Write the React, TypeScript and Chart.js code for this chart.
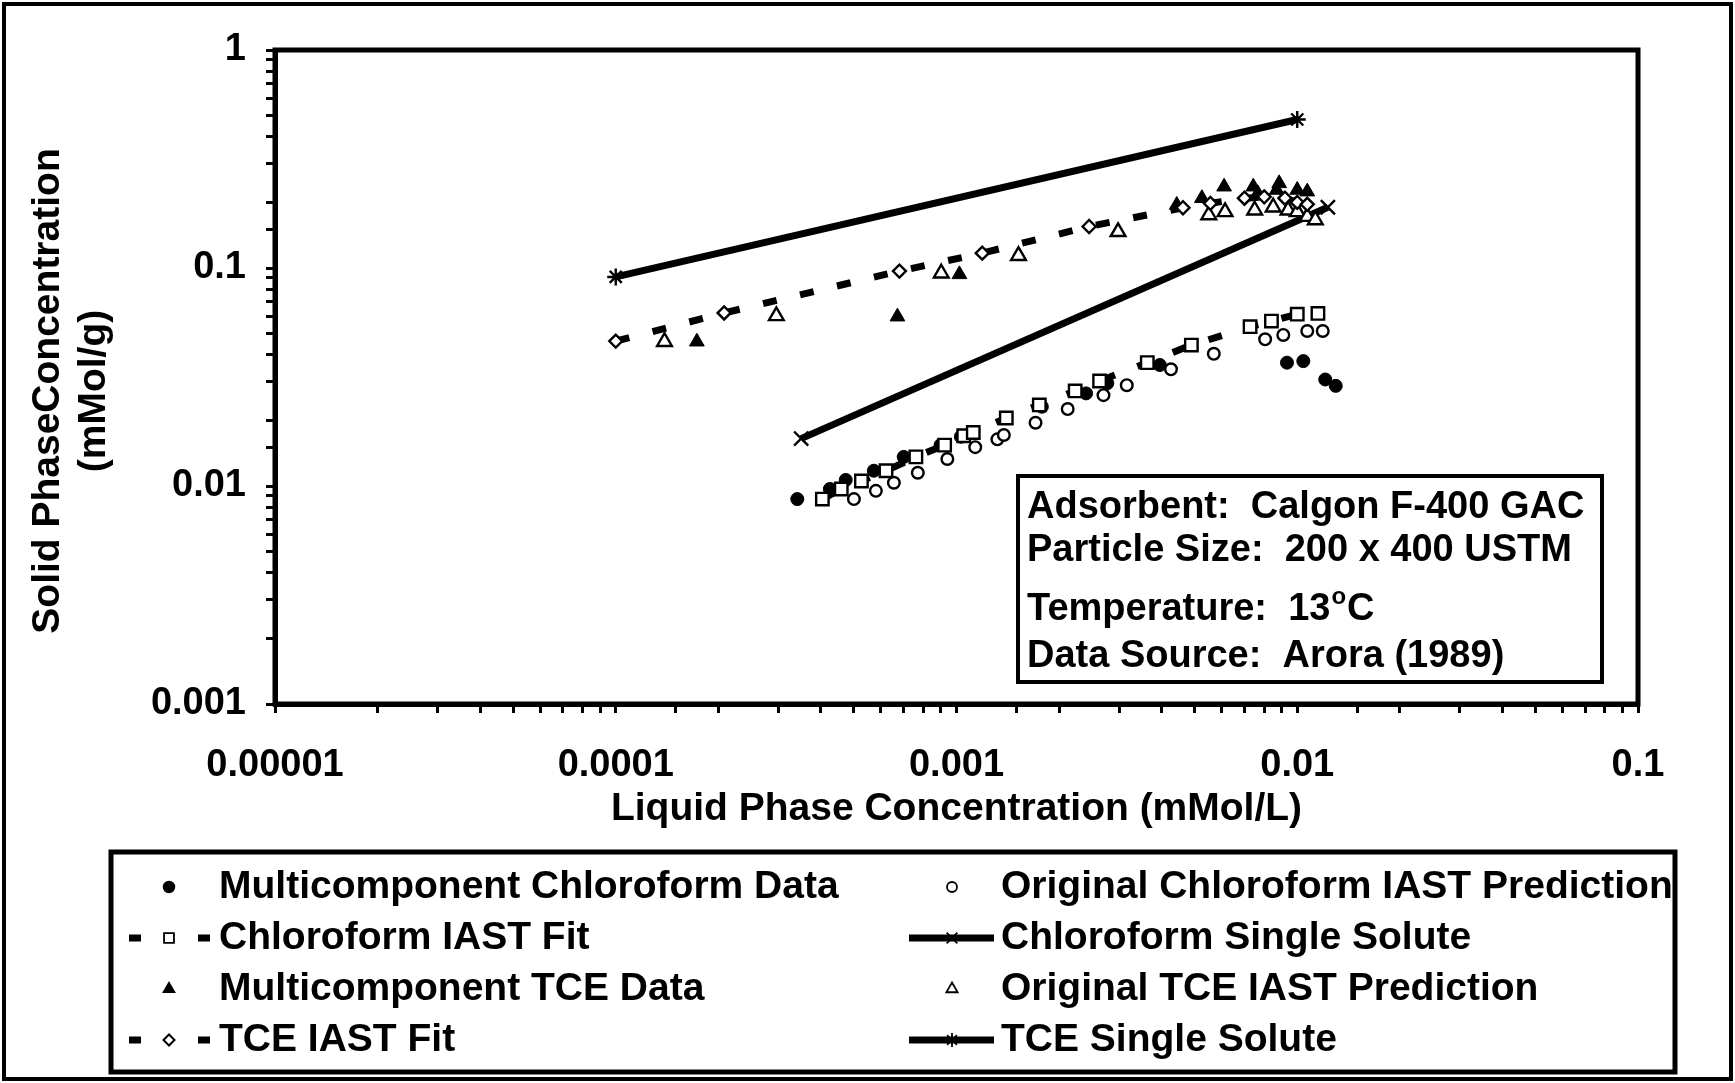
import React, { useEffect, useRef } from 'react';
import { Chart, registerables } from 'chart.js';

Chart.register(...registerables);

// ---------- data ----------
const CHL_DATA_X = [0.000341, 0.000425, 0.000473, 0.000572, 0.0007, 0.000898, 0.00103, 0.00178, 0.0024, 0.00277, 0.00395, 0.00933, 0.01042, 0.01208, 0.01297];
const CHL_DATA_Y = [0.00871, 0.00969, 0.01066, 0.01175, 0.0136, 0.0154, 0.01683, 0.0231, 0.0266, 0.0296, 0.0359, 0.0368, 0.0374, 0.0308, 0.0288];

const CHL_ORIG_X = [0.0005, 0.00058, 0.000655, 0.00077, 0.00094, 0.001135, 0.001318, 0.001377, 0.001706, 0.00212, 0.0027, 0.00316, 0.00426, 0.00569, 0.00805, 0.0091, 0.0107, 0.01188];
const CHL_ORIG_Y = [0.00871, 0.0095, 0.01035, 0.0115, 0.0133, 0.01507, 0.01637, 0.01714, 0.0195, 0.02254, 0.0261, 0.029, 0.0343, 0.0404, 0.0471, 0.0493, 0.0514, 0.0514];

const CHL_FIT_X = [0.000404, 0.000459, 0.000526, 0.000621, 0.00076, 0.000923, 0.00105, 0.00112, 0.0014, 0.00175, 0.00223, 0.00263, 0.00363, 0.00489, 0.00727, 0.0084, 0.01, 0.0115];
const CHL_FIT_Y = [0.00871, 0.00969, 0.01054, 0.01175, 0.0136, 0.0154, 0.017, 0.0176, 0.0205, 0.02355, 0.0273, 0.0303, 0.0368, 0.0443, 0.0538, 0.0571, 0.0614, 0.0619];

const CHL_SINGLE_X = [0.00035, 0.0123];
const CHL_SINGLE_Y = [0.0165, 0.19];

const TCE_DATA_X = [0.000173, 0.000671, 0.00102, 0.00153, 0.00297, 0.00443, 0.00525, 0.0061, 0.00743, 0.00766, 0.00885, 0.0087, 0.01, 0.0107];
const TCE_DATA_Y = [0.0459, 0.0598, 0.0935, 0.1135, 0.1466, 0.1945, 0.209, 0.236, 0.236, 0.22, 0.2445, 0.228, 0.228, 0.224];

const TCE_ORIG_X = [0.000139, 0.000296, 0.000902, 0.00152, 0.00298, 0.0055, 0.00614, 0.0075, 0.0085, 0.0094, 0.01, 0.0107, 0.0113];
const TCE_ORIG_Y = [0.0459, 0.0603, 0.0946, 0.1138, 0.1466, 0.175, 0.181, 0.184, 0.19, 0.184, 0.181, 0.172, 0.166];

const TCE_FIT_X = [0.0001, 0.000208, 0.00068, 0.00119, 0.00245, 0.00462, 0.00556, 0.007, 0.008, 0.0092, 0.01, 0.0107];
const TCE_FIT_Y = [0.0462, 0.0622, 0.0968, 0.117, 0.155, 0.189, 0.198, 0.209, 0.212, 0.209, 0.2, 0.196];

const TCE_SINGLE_X = [0.0001, 0.01];
const TCE_SINGLE_Y = [0.091, 0.48];

const X_TICK_LABELS = ['0.00001', '0.0001', '0.001', '0.01', '0.1']; // 1e-5 .. 1e-1
const Y_TICK_LABELS = ['0.001', '0.01', '0.1', '1']; // 1e-3 .. 1e0

const X_TITLE = 'Liquid Phase Concentration (mMol/L)';
const Y_TITLE_LINES = ['Solid PhaseConcentration', '(mMol/g)'];
const INFO_LINES = ['Adsorbent:  Calgon F-400 GAC', 'Particle Size:  200 x 400 USTM', 'Temperature:  13', 'Data Source:  Arora (1989)'];

const LEGEND_LABELS = [
  'Multicomponent Chloroform Data',
  'Original Chloroform IAST Prediction',
  'Chloroform IAST Fit',
  'Chloroform Single Solute',
  'Multicomponent TCE Data',
  'Original TCE IAST Prediction',
  'TCE IAST Fit',
  'TCE Single Solute',
];

const W = 1735;
const H = 1083;
const FONT = '"Liberation Sans", Arial, Helvetica, sans-serif';
const FS = 38;
const FS_BIG = 39;

const pts = (xs: number[], ys: number[]) => xs.map((x, i) => ({ x, y: ys[i] }));

type Style = 'circle' | 'rect' | 'triangle' | 'rectRot' | 'crossRot' | 'star';

function drawMarker(ctx: CanvasRenderingContext2D, style: Style, x: number, y: number, r: number, fill: string, lw: number) {
  ctx.save();
  ctx.beginPath();
  ctx.lineWidth = lw;
  ctx.strokeStyle = '#000';
  ctx.fillStyle = fill;
  if (style === 'circle') {
    ctx.arc(x, y, r, 0, Math.PI * 2);
    ctx.fill();
    ctx.stroke();
  } else if (style === 'rect') {
    const s = r * Math.SQRT1_2;
    ctx.rect(x - s, y - s, 2 * s, 2 * s);
    ctx.fill();
    ctx.stroke();
  } else if (style === 'triangle') {
    ctx.moveTo(x, y - r);
    ctx.lineTo(x + r * Math.sin((2 * Math.PI) / 3), y - r * Math.cos((2 * Math.PI) / 3));
    ctx.lineTo(x + r * Math.sin((4 * Math.PI) / 3), y - r * Math.cos((4 * Math.PI) / 3));
    ctx.closePath();
    ctx.fill();
    ctx.stroke();
  } else if (style === 'rectRot') {
    ctx.moveTo(x - r, y);
    ctx.lineTo(x, y - r);
    ctx.lineTo(x + r, y);
    ctx.lineTo(x, y + r);
    ctx.closePath();
    ctx.fill();
    ctx.stroke();
  } else if (style === 'crossRot') {
    const d = r * Math.SQRT1_2;
    ctx.moveTo(x - d, y - d);
    ctx.lineTo(x + d, y + d);
    ctx.moveTo(x + d, y - d);
    ctx.lineTo(x - d, y + d);
    ctx.stroke();
  } else if (style === 'star') {
    const d = r * Math.SQRT1_2;
    ctx.moveTo(x - d, y - d);
    ctx.lineTo(x + d, y + d);
    ctx.moveTo(x + d, y - d);
    ctx.lineTo(x - d, y + d);
    ctx.moveTo(x, y - r);
    ctx.lineTo(x, y + r);
    ctx.moveTo(x - r, y);
    ctx.lineTo(x + r, y);
    ctx.stroke();
  }
  ctx.restore();
}

const decoPlugin = {
  id: 'deco',
  beforeDraw(chart: any) {
    const ctx = chart.ctx as CanvasRenderingContext2D;
    ctx.save();
    ctx.fillStyle = '#fff';
    ctx.fillRect(0, 0, W, H);
    ctx.restore();
  },
  afterDraw(chart: any) {
    const ctx = chart.ctx as CanvasRenderingContext2D;
    const a = chart.chartArea;
    ctx.save();
    ctx.strokeStyle = '#000';
    ctx.fillStyle = '#000';

    // plot frame
    ctx.lineWidth = 5;
    ctx.strokeRect(a.left, a.top, a.right - a.left, a.bottom - a.top);

    // outer border
    ctx.lineWidth = 4;
    ctx.strokeRect(4, 4, W - 8, H - 8);

    ctx.font = `bold ${FS_BIG}px ${FONT}`;

    // x title
    ctx.textAlign = 'center';
    ctx.textBaseline = 'middle';
    ctx.fillText(X_TITLE, (a.left + a.right) / 2, 809);

    // y title
    ctx.save();
    ctx.translate(0, 391);
    ctx.rotate(-Math.PI / 2);
    ctx.fillText(Y_TITLE_LINES[0], 0, 48);
    ctx.fillText(Y_TITLE_LINES[1], 0, 94);
    ctx.restore();

    // info box
    ctx.lineWidth = 4;
    ctx.fillStyle = '#fff';
    ctx.fillRect(1018, 476, 584, 206);
    ctx.strokeRect(1018, 476, 584, 206);
    ctx.fillStyle = '#000';
    ctx.textAlign = 'left';
    ctx.textBaseline = 'alphabetic';
    ctx.font = `bold ${FS}px ${FONT}`;
    const baselines = [518, 561, 620, 667];
    INFO_LINES.forEach((t, i) => {
      ctx.fillText(t, 1027, baselines[i]);
      if (i === 2) {
        const w = ctx.measureText(t).width;
        ctx.font = `bold 24px ${FONT}`;
        ctx.fillText('o', 1027 + w + 1, baselines[i] - 16);
        const w2 = ctx.measureText('o').width;
        ctx.font = `bold ${FS}px ${FONT}`;
        ctx.fillText('C', 1027 + w + w2 + 2, baselines[i]);
      }
    });

    // legend box
    ctx.lineWidth = 5;
    ctx.strokeRect(111, 852, 1564, 220);
    const rows = [887, 938, 989, 1040];
    const col1Marker = 169;
    const col1Text = 219;
    const col2Marker = 952;
    const col2Text = 1001;
    ctx.textBaseline = 'middle';
    ctx.textAlign = 'left';
    const dashPair = (cx: number, y: number) => {
      ctx.save();
      ctx.lineWidth = 7;
      ctx.lineCap = 'butt';
      ctx.beginPath();
      ctx.moveTo(cx - 40, y);
      ctx.lineTo(cx - 28, y);
      ctx.moveTo(cx + 29, y);
      ctx.lineTo(cx + 41, y);
      ctx.stroke();
      ctx.restore();
    };
    const solidLine = (cx: number, y: number) => {
      ctx.save();
      ctx.lineWidth = 7;
      ctx.beginPath();
      ctx.moveTo(cx - 43, y);
      ctx.lineTo(cx + 42, y);
      ctx.stroke();
      ctx.restore();
    };
    // col 1
    drawMarker(ctx, 'circle', col1Marker, rows[0], 5.5, '#000', 1.5);
    dashPair(col1Marker, rows[1]);
    drawMarker(ctx, 'rect', col1Marker, rows[1], 7, '#fff', 1.8);
    drawMarker(ctx, 'triangle', col1Marker, rows[2], 6.5, '#000', 1.5);
    dashPair(col1Marker, rows[3]);
    drawMarker(ctx, 'rectRot', col1Marker, rows[3], 5.5, '#fff', 2);
    // col 2
    drawMarker(ctx, 'circle', col2Marker, rows[0], 5, '#fff', 1.8);
    solidLine(col2Marker, rows[1]);
    drawMarker(ctx, 'crossRot', col2Marker, rows[1], 7.5, '#fff', 1.8);
    drawMarker(ctx, 'triangle', col2Marker, rows[2], 6.5, '#fff', 1.8);
    solidLine(col2Marker, rows[3]);
    drawMarker(ctx, 'star', col2Marker, rows[3], 7, '#fff', 1.8);

    ctx.fillStyle = '#000';
    ctx.font = `bold ${FS_BIG}px ${FONT}`;
    ctx.fillText(LEGEND_LABELS[0], col1Text, rows[0]);
    ctx.fillText(LEGEND_LABELS[2], col1Text, rows[1]);
    ctx.fillText(LEGEND_LABELS[4], col1Text, rows[2]);
    ctx.fillText(LEGEND_LABELS[6], col1Text, rows[3]);
    ctx.fillText(LEGEND_LABELS[1], col2Text, rows[0]);
    ctx.fillText(LEGEND_LABELS[3], col2Text, rows[1]);
    ctx.fillText(LEGEND_LABELS[5], col2Text, rows[2]);
    ctx.fillText(LEGEND_LABELS[7], col2Text, rows[3]);

    ctx.restore();
  },
};

function decadeLabel(value: number, labels: string[], minExp: number) {
  const l = Math.log10(value);
  const r = Math.round(l);
  if (Math.abs(l - r) < 1e-6) {
    const idx = r - minExp;
    return labels[idx] ?? '';
  }
  return '';
}

export default function App() {
  const canvasRef = useRef<HTMLCanvasElement | null>(null);

  useEffect(() => {
    const canvas = canvasRef.current;
    if (!canvas) return;
    const base = { showLine: false, borderColor: '#000', pointBorderColor: '#000' };
    const chart = new Chart(canvas, {
      type: 'scatter',
      data: {
        datasets: [
          {
            ...base,
            label: LEGEND_LABELS[0],
            data: pts(CHL_DATA_X, CHL_DATA_Y),
            pointStyle: 'circle',
            pointRadius: 6.5,
            pointBackgroundColor: '#000',
            pointBorderWidth: 1,
            order: 8,
          },
          {
            ...base,
            label: LEGEND_LABELS[1],
            data: pts(CHL_ORIG_X, CHL_ORIG_Y),
            pointStyle: 'circle',
            pointRadius: 5.8,
            pointBackgroundColor: '#fff',
            pointBorderWidth: 2.4,
            order: 7,
          },
          {
            ...base,
            label: LEGEND_LABELS[2],
            data: pts(CHL_FIT_X, CHL_FIT_Y),
            showLine: true,
            borderWidth: 7,
            borderDash: [14, 24],
            pointStyle: 'rect',
            pointRadius: 8.8,
            pointBackgroundColor: '#fff',
            pointBorderWidth: 2.4,
            order: 6,
          },
          {
            ...base,
            label: LEGEND_LABELS[3],
            data: pts(CHL_SINGLE_X, CHL_SINGLE_Y),
            showLine: true,
            borderWidth: 7,
            pointStyle: 'crossRot',
            pointRadius: 10,
            pointBorderWidth: 2.4,
            order: 5,
          },
          {
            ...base,
            label: LEGEND_LABELS[4],
            data: pts(TCE_DATA_X, TCE_DATA_Y),
            pointStyle: 'triangle',
            pointRadius: 8.5,
            pointBackgroundColor: '#000',
            pointBorderWidth: 1,
            order: 4,
          },
          {
            ...base,
            label: LEGEND_LABELS[5],
            data: pts(TCE_ORIG_X, TCE_ORIG_Y),
            pointStyle: 'triangle',
            pointRadius: 8.5,
            pointBackgroundColor: '#fff',
            pointBorderWidth: 2.4,
            order: 3,
          },
          {
            ...base,
            label: LEGEND_LABELS[6],
            data: pts(TCE_FIT_X, TCE_FIT_Y),
            showLine: true,
            borderWidth: 7,
            borderDash: [14, 24],
            pointStyle: 'rectRot',
            pointRadius: 6.5,
            pointBackgroundColor: '#fff',
            pointBorderWidth: 2.4,
            order: 2,
          },
          {
            ...base,
            label: LEGEND_LABELS[7],
            data: pts(TCE_SINGLE_X, TCE_SINGLE_Y),
            showLine: true,
            borderWidth: 7,
            pointStyle: 'star',
            pointRadius: 8.5,
            pointBorderWidth: 2.4,
            order: 1,
          },
        ] as any,
      },
      options: {
        responsive: false,
        maintainAspectRatio: false,
        devicePixelRatio: 1,
        animation: false,
        events: [],
        layout: { padding: { top: 50, right: 97, left: 0, bottom: 0 } },
        plugins: {
          legend: { display: false },
          tooltip: { enabled: false },
          title: { display: false },
        },
        scales: {
          x: {
            type: 'logarithmic',
            min: 0.00001,
            max: 0.1,
            position: 'bottom',
            border: { display: true, color: '#000', width: 5 },
            grid: { display: true, drawOnChartArea: false, drawTicks: true, tickLength: 9, lineWidth: 3, color: '#000' },
            ticks: {
              autoSkip: false,
              maxRotation: 0,
              minRotation: 0,
              padding: 30,
              color: '#000',
              font: { family: FONT, size: FS, weight: 'bold' },
              callback: (v: any) => decadeLabel(Number(v), X_TICK_LABELS, -5),
            },
            afterFit: (scale: any) => {
              scale.height = H - 704;
            },
          },
          y: {
            type: 'logarithmic',
            min: 0.001,
            max: 1,
            position: 'left',
            border: { display: true, color: '#000', width: 5 },
            grid: { display: true, drawOnChartArea: false, drawTicks: true, tickLength: 9, lineWidth: 3, color: '#000' },
            ticks: {
              autoSkip: false,
              padding: 20,
              color: '#000',
              font: { family: FONT, size: FS, weight: 'bold' },
              callback: (v: any) => decadeLabel(Number(v), Y_TICK_LABELS, -3),
            },
            afterFit: (scale: any) => {
              scale.width = 275;
            },
          },
        },
      } as any,
      plugins: [decoPlugin],
    });
    return () => chart.destroy();
  }, []);

  return (
    <div style={{ position: 'fixed', left: 0, top: 0, width: W, height: H, background: '#fff' }}>
      <canvas ref={canvasRef} width={W} height={H} style={{ display: 'block', width: W, height: H }} />
    </div>
  );
}
